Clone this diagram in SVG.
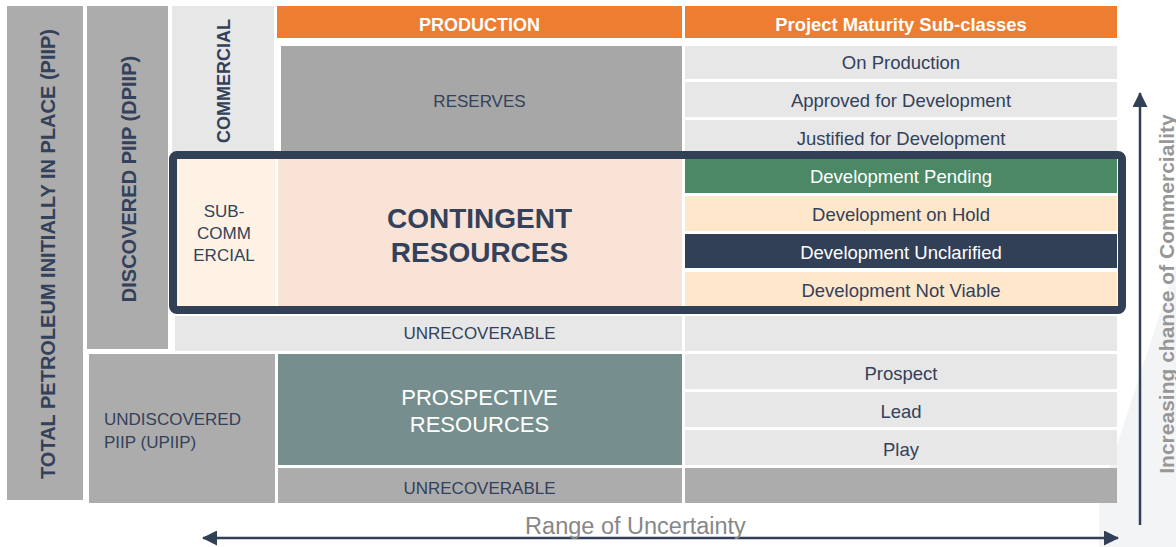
<svg xmlns="http://www.w3.org/2000/svg" width="1176" height="547" viewBox="0 0 1176 547">
<defs>
<style>
.t{font-family:"Liberation Sans",Arial,sans-serif;fill:#33415a}
.b{font-weight:bold}
.w{fill:#ffffff}
.dk{fill:#acacac}
.lt{fill:#e7e7e7}
.or{fill:#ed7d31}
.pe{fill:#fee7ca}
.row{font-size:18.5px;text-anchor:middle}
.mid{text-anchor:middle}
</style>
<marker id="ah" viewBox="0 0 15 15" refX="14" refY="7.5" markerWidth="15" markerHeight="15" markerUnits="userSpaceOnUse" orient="auto-start-reverse">
<path d="M0,0 L15,7.5 L0,15 z" fill="#313f57"/>
</marker>
</defs>
<rect width="1176" height="547" fill="#ffffff"/>
<polygon points="1099,547 1099,500 1176,265 1176,547" fill="#f3f4f6"/>

<g id="piip">
<rect x="7" y="6" width="76" height="494" class="dk"/>
<text class="t b mid" font-size="20" transform="translate(55,254) rotate(-90)">TOTAL PETROLEUM INITIALLY IN PLACE (PIIP)</text>
</g>
<g id="dpiip">
<rect x="87" y="6" width="81" height="343" class="dk"/>
<text class="t b mid" font-size="20" transform="translate(136,179) rotate(-90)">DISCOVERED PIIP (DPIIP)</text>
</g>
<g id="commercial">
<rect x="172" y="6" width="102" height="146" class="lt"/>
<text class="t b mid" font-size="18" transform="translate(230,81) rotate(-90)">COMMERCIAL</text>
</g>
<g id="production-header">
<rect x="277" y="6" width="405" height="32" class="or"/>
<text class="t b w mid" font-size="18" x="479.5" y="30.5">PRODUCTION</text>
</g>
<g id="maturity-header">
<rect x="685" y="6" width="432" height="32" class="or"/>
<text class="t b w mid" font-size="18.4" x="901" y="31">Project Maturity Sub-classes</text>
</g>
<g id="reserves">
<rect x="281" y="46" width="401" height="106" fill="#a7a7a7"/>
<text class="t mid" font-size="17" x="479.5" y="107">RESERVES</text>
</g>
<g id="on-production">
<rect x="685" y="46" width="432" height="33" class="lt"/>
<text class="t row" x="901" y="69">On Production</text>
</g>
<g id="approved">
<rect x="685" y="82" width="432" height="35" class="lt"/>
<text class="t row" x="901" y="107">Approved for Development</text>
</g>
<g id="justified">
<rect x="685" y="120" width="432" height="35" class="lt"/>
<text class="t row" x="901" y="145">Justified for Development</text>
</g>
<g id="sub-commercial">
<rect x="177" y="159" width="98" height="147" fill="#fef2e4"/>
<text class="t mid" font-size="17"><tspan x="224" y="217">SUB-</tspan><tspan x="224" y="239">COMM</tspan><tspan x="224" y="261">ERCIAL</tspan></text>
</g>
<g id="contingent">
<rect x="278" y="159" width="404" height="147" fill="#f9e3d6"/>
<text class="t b mid" font-size="28"><tspan x="479.5" y="228">CONTINGENT</tspan><tspan x="479.5" y="262">RESOURCES</tspan></text>
</g>
<g id="dev-pending">
<rect x="685" y="159" width="432" height="34" fill="#4a8866"/>
<text class="t row w" x="901" y="183">Development Pending</text>
</g>
<g id="dev-hold">
<rect x="685" y="196" width="432" height="35" class="pe"/>
<text class="t row" x="901" y="221">Development on Hold</text>
</g>
<g id="dev-unclarified">
<rect x="685" y="234" width="432" height="34" fill="#313f57"/>
<text class="t row w" x="901" y="259">Development Unclarified</text>
</g>
<g id="dev-not-viable">
<rect x="685" y="272" width="432" height="34" class="pe"/>
<text class="t row" x="901" y="297">Development Not Viable</text>
</g>
<g id="contingent-frame">
<rect x="173" y="155" width="949" height="155" rx="4" fill="none" stroke="#313f57" stroke-width="8"/>
</g>
<g id="unrecoverable-1">
<rect x="175" y="316" width="507" height="35" class="lt"/>
<rect x="685" y="316" width="432" height="35" class="lt"/>
<text class="t mid" font-size="17" x="479.5" y="339">UNRECOVERABLE</text>
</g>
<g id="upiip">
<rect x="89" y="354" width="186" height="149" class="dk"/>
<text class="t" font-size="17"><tspan x="104" y="425">UNDISCOVERED</tspan><tspan x="104" y="448">PIIP (UPIIP)</tspan></text>
</g>
<g id="prospective">
<rect x="278" y="354" width="404" height="111" fill="#768f8e"/>
<text class="t w mid" font-size="22"><tspan x="479.5" y="405">PROSPECTIVE</tspan><tspan x="479.5" y="432">RESOURCES</tspan></text>
</g>
<g id="prospect">
<rect x="685" y="354" width="432" height="35" class="lt"/>
<text class="t row" x="901" y="380">Prospect</text>
</g>
<g id="lead">
<rect x="685" y="392" width="432" height="35" class="lt"/>
<text class="t row" x="901" y="418">Lead</text>
</g>
<g id="play">
<rect x="685" y="430" width="432" height="35" class="lt"/>
<text class="t row" x="901" y="456">Play</text>
</g>
<g id="unrecoverable-2">
<rect x="278" y="468" width="404" height="35" class="dk"/>
<rect x="685" y="468" width="432" height="35" class="dk"/>
<text class="t mid" font-size="17" x="479.5" y="494">UNRECOVERABLE</text>
</g>

<g id="connectors">
<line x1="203" y1="538" x2="1118" y2="538" stroke="#313f57" stroke-width="2.5" marker-start="url(#ah)" marker-end="url(#ah)"/>
<line x1="1140" y1="525" x2="1140" y2="93" stroke="#313f57" stroke-width="2.5" marker-end="url(#ah)"/>
</g>
<g id="axis-labels">
<text class="t mid" font-size="23.5" x="635.5" y="534" style="fill:#878787">Range of Uncertainty</text>
<text class="t b mid" font-size="21" transform="translate(1174,294) rotate(-90)" style="fill:#979797">Increasing chance of Commerciality</text>
</g>
</svg>
